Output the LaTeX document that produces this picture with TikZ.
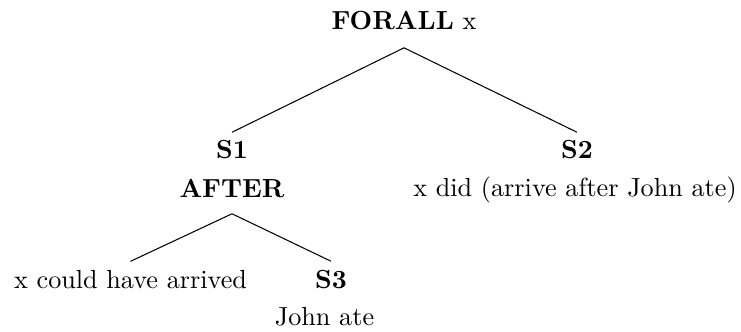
\documentclass[tikz,border=0pt]{standalone}
\begin{document}
\begin{tikzpicture}[x=0.3821pt,y=-0.3821pt,
  lbl/.style={inner sep=0pt,anchor=base,font=\fontsize{10}{12}\selectfont},
  edge/.style={line width=0.4pt}]
\useasboundingbox (0,0) rectangle (741,331);
\node[lbl] (forall) at (404,30) {\textbf{FORALL} x};
\node[lbl] (s1) at (232,158) {\textbf{S1}};
\node[lbl] (after) at (232,197) {\textbf{AFTER}};
\node[lbl] (s2) at (577,158) {\textbf{S2}};
\node[lbl] (did) at (575,196) {x did (arrive after John ate)};
\node[lbl] (could) at (130.5,288) {x could have arrived};
\node[lbl] (s3) at (331,288) {\textbf{S3}};
\node[lbl] (john) at (324.5,325) {John ate};
\draw[edge] ([yshift=-6.5pt]forall.south) -- ([yshift=2.67pt]s1.north);
\draw[edge] ([yshift=-6.5pt]forall.south) -- ([yshift=2.67pt]s2.north);
\draw[edge] ([yshift=-6.1pt]after.south) -- ([yshift=3.06pt]could.north);
\draw[edge] ([yshift=-6.1pt]after.south) -- ([yshift=3.06pt]s3.north);
\end{tikzpicture}
\end{document}
